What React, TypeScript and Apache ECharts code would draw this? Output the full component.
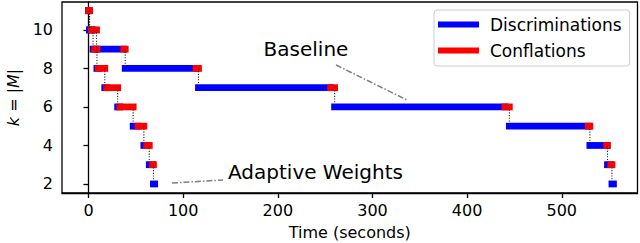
import React, { useEffect, useRef } from 'react';
import * as echarts from 'echarts';

// k = |M| levels visited by both runs
const levels = [11, 10, 9, 8, 7, 6, 5, 4, 3, 2];

// Adaptive Weights run: start of level, switch discrimination -> conflation, end of level (seconds)
const adaptiveStart = [0, 1.1, 4.8, 8.9, 17.2, 30.8, 47.2, 58.5, 64.2, 68.6];
const adaptiveSwitch = [0.4, 3.4, 6.6, 10.5, 19.2, 33.0, 52.4, 61.3, 67.6, 69.9];
const adaptiveEnd = [1.1, 4.8, 8.9, 17.2, 30.8, 47.2, 58.5, 64.2, 68.6, 69.9];

// Baseline run
const baselineStart = [0, 1.1, 8.5, 38.8, 116.2, 260.0, 444.6, 529.7, 548.3, 553.0];
const baselineSwitch = [0.4, 3.4, 37.3, 113.7, 255.8, 440.0, 528.0, 547.5, 551.7, 554.6];
const baselineEnd = [1.1, 8.5, 38.8, 116.2, 260.0, 444.6, 529.7, 548.3, 553.0, 554.6];

const xTicks = [0, 100, 200, 300, 400, 500];
const yTicks = [2, 4, 6, 8, 10];

const FONT = 'DejaVu Sans';

function buildRun(start: number[], sw: number[], end: number[]) {
  const blue: number[][] = [];
  const red: number[][] = [];
  const dots: number[][] = [];
  for (let i = 0; i < levels.length; i++) {
    blue.push([start[i], sw[i], levels[i]]);
    if (end[i] > sw[i]) red.push([sw[i], end[i], levels[i]]);
    if (i < levels.length - 1) dots.push([end[i], levels[i], levels[i + 1]]);
  }
  return { blue, red, dots };
}

const runA = buildRun(adaptiveStart, adaptiveSwitch, adaptiveEnd);
const runB = buildRun(baselineStart, baselineSwitch, baselineEnd);

const blueData = [...runA.blue, ...runB.blue];
const redData = [...runA.red, ...runB.red];
const dotData = [...runA.dots, ...runB.dots];

function barRender(color: string) {
  return (params: any, api: any) => {
    const p1 = api.coord([api.value(0), api.value(2)]);
    const p2 = api.coord([api.value(1), api.value(2)]);
    return {
      type: 'line',
      shape: { x1: p1[0], y1: p1[1], x2: p2[0], y2: p2[1] },
      style: { stroke: color, lineWidth: 6.8, lineCap: 'square', fill: null },
    };
  };
}

function dotRender(params: any, api: any) {
  const p1 = api.coord([api.value(0), api.value(1)]);
  const p2 = api.coord([api.value(0), api.value(2)]);
  return {
    type: 'line',
    shape: { x1: p1[0], y1: p1[1], x2: p2[0], y2: p2[1] },
    style: { stroke: '#222', lineWidth: 1.1, lineDash: [1.1, 1.6], fill: null },
  };
}

export default function App() {
  const ref = useRef<HTMLDivElement>(null);
  useEffect(() => {
    document.body.style.margin = '0';
    const chart = echarts.init(ref.current as HTMLDivElement, null, { renderer: 'svg' });
    chart.setOption({
      animation: false,
      backgroundColor: '#ffffff',
      grid: {
        left: 62,
        right: 2.5,
        top: 2,
        bottom: 50,
        show: true,
        borderColor: '#000',
        borderWidth: 1.3,
        containLabel: false,
        outerBoundsMode: 'none',
      },
      legend: {
        data: ['Discriminations', 'Conflations'],
        orient: 'vertical',
        left: 434,
        top: 10,
        padding: [5, 8, 6, 4],
        itemGap: 7,
        itemWidth: 41,
        itemHeight: 6,
        icon: 'rect',
        backgroundColor: 'rgba(255,255,255,0.85)',
        borderColor: '#cccccc',
        borderWidth: 1,
        borderRadius: 3,
        textStyle: {
          fontFamily: FONT,
          fontSize: 17,
          color: '#000',
          lineHeight: 19,
          padding: [0, 0, 0, 6],
        },
      },
      xAxis: {
        type: 'value',
        min: -28,
        max: 580,
        name: 'Time (seconds)',
        nameLocation: 'middle',
        nameGap: 31,
        nameTextStyle: { fontFamily: FONT, fontSize: 16, color: '#000' },
        axisLine: { show: true, lineStyle: { color: '#000', width: 1.3 } },
        axisTick: { show: true, inside: false, length: 5, lineStyle: { color: '#000', width: 1.3 }, customValues: xTicks },
        axisLabel: { fontFamily: FONT, fontSize: 16, color: '#000', margin: 9, customValues: xTicks },
        splitLine: { show: false },
      },
      yAxis: {
        type: 'value',
        min: 1.53,
        max: 11.45,
        name: '{i|k} = |{i|M}|',
        nameLocation: 'middle',
        nameRotate: 90,
        nameGap: 41,
        nameTextStyle: {
          fontFamily: FONT,
          fontSize: 16,
          color: '#000',
          rich: { i: { fontFamily: FONT, fontSize: 16, fontStyle: 'italic', color: '#000' } },
        },
        axisLine: { show: true, lineStyle: { color: '#000', width: 1.3 } },
        axisTick: { show: true, inside: false, length: 5, lineStyle: { color: '#000', width: 1.3 }, customValues: yTicks },
        axisLabel: { fontFamily: FONT, fontSize: 16, color: '#000', margin: 9, customValues: yTicks },
        splitLine: { show: false },
      },
      graphic: [
        {
          type: 'line',
          shape: { x1: 336, y1: 65, x2: 407, y2: 100 },
          style: { stroke: '#7f7f7f', lineWidth: 1.5, lineDash: [6, 2, 1.5, 2] },
          z: 10,
        },
        {
          type: 'text',
          x: 306,
          y: 49,
          style: { text: 'Baseline', fontFamily: FONT, fontSize: 20, fill: '#000', textAlign: 'center', textVerticalAlign: 'middle' },
          z: 10,
        },
        {
          type: 'line',
          shape: { x1: 172, y1: 183, x2: 223, y2: 180 },
          style: { stroke: '#7f7f7f', lineWidth: 1.5, lineDash: [6, 2, 1.5, 2] },
          z: 10,
        },
        {
          type: 'text',
          x: 228,
          y: 172,
          style: { text: 'Adaptive Weights', fontFamily: FONT, fontSize: 20, fill: '#000', textAlign: 'left', textVerticalAlign: 'middle' },
          z: 10,
        },
      ],
      series: [
        {
          type: 'custom',
          name: 'Discriminations',
          data: blueData,
          renderItem: barRender('#0000ff'),
          encode: { x: [0, 1], y: 2 },
          itemStyle: { color: '#0000ff' },
          silent: true,
          z: 2,
        },
        {
          type: 'custom',
          name: 'Conflations',
          data: redData,
          renderItem: barRender('#ff0000'),
          encode: { x: [0, 1], y: 2 },
          itemStyle: { color: '#ff0000' },
          silent: true,
          z: 3,
        },
        {
          type: 'custom',
          name: 'transitions',
          data: dotData,
          renderItem: dotRender,
          encode: { x: 0, y: [1, 2] },
          silent: true,
          z: 4,
        },
      ],
    });
    return () => chart.dispose();
  }, []);
  return <div ref={ref} style={{ width: 640, height: 243, position: 'fixed', left: 0, top: 0 }} />;
}
